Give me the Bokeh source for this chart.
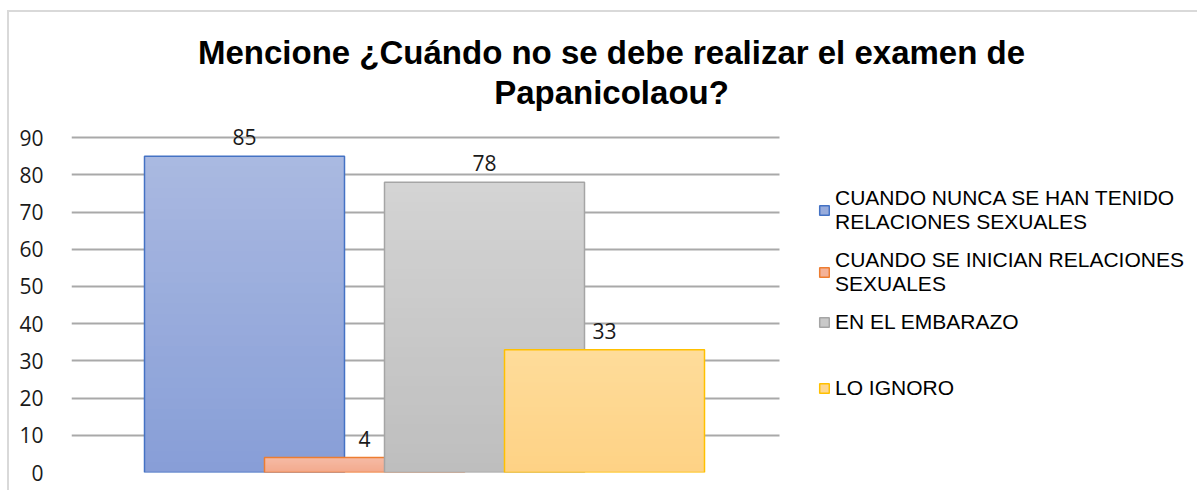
from bokeh.plotting import figure
from bokeh.models import Range1d, Legend, LegendItem, ColumnDataSource, FixedTicker, Label
from bokeh.embed import file_html
from bokeh.resources import INLINE
from bokeh.core.properties import value

# ---- data ----
series = [
    "CUANDO NUNCA SE HAN TENIDO\nRELACIONES SEXUALES",
    "CUANDO SE INICIAN RELACIONES\nSEXUALES",
    "EN EL EMBARAZO",
    "LO IGNORO",
]
values = [85, 4, 78, 33]
y_ticks = [0, 10, 20, 30, 40, 50, 60, 70, 80, 90]
title_lines = ["Mencione ¿Cuándo no se debe realizar el examen de", "Papanicolaou?"]

# ---- styles ----
top_colors = ["#aab9e1", "#f6bba5", "#d4d4d4", "#fedc9a"]
bottom_colors = ["#879ed7", "#f3a98c", "#bebebe", "#fed285"]
line_colors = ["#4472c4", "#ed7d31", "#a5a5a5", "#ffc000"]
N_SLICES = 30


def mix(c1, c2, t):
    a = [int(c1[k:k + 2], 16) for k in (1, 3, 5)]
    b = [int(c2[k:k + 2], 16) for k in (1, 3, 5)]
    return "#%02x%02x%02x" % tuple(round(a[j] + (b[j] - a[j]) * t) for j in range(3))


n = len(values)
bar_w = 1.0
step = 0.6
xs = [(i - (n - 1) / 2) * step for i in range(n)]

src = ColumnDataSource(dict(x=xs, top=values, txt=[str(v) for v in values]))

# frame spans the whole chart area; headroom above 90 holds the title
p = figure(width=1190, height=480, output_backend="svg", toolbar_location=None,
           x_range=Range1d(-1.765, 3.875), y_range=Range1d(0, 121.47),
           min_border_left=62, min_border_right=0, min_border_top=8,
           min_border_bottom=20)
p.title.visible = False
p.outline_line_color = None
p.styles = {"border-top": "2px solid #d9d9d9", "border-left": "2px solid #d9d9d9",
            "margin-left": "7px", "margin-top": "10px"}

legend_renderers = []
for i in range(n):
    v = values[i]
    # vertical gradient: overlapping slices, each running up to the bar top
    bots = [v * k / N_SLICES for k in range(N_SLICES)]
    tops = [v] * N_SLICES
    cols = [mix(bottom_colors[i], top_colors[i], (k + 0.5) / N_SLICES) for k in range(N_SLICES)]
    p.vbar(x=[xs[i]] * N_SLICES, bottom=bots, top=tops, width=bar_w,
           fill_color=cols, line_color=None)
    p.vbar(x=[xs[i]], top=[v], bottom=0, width=bar_w, fill_color=None,
           line_color=line_colors[i], line_width=1.5)
    swatch = p.vbar(x=[xs[i]], top=[v], bottom=0, width=bar_w,
                    fill_color=mix(bottom_colors[i], top_colors[i], 0.5),
                    line_color=line_colors[i], line_width=1.5, visible=False)
    legend_renderers.append(swatch)

p.text(x="x", y="top", text="txt", source=src, text_align="center",
       text_baseline="alphabetic", y_offset=-19,
       text_font=value("Open Sans"), text_font_size="21px", text_color="#1a1a1a")

p.xaxis.visible = False
p.xgrid.visible = False
p.yaxis.ticker = FixedTicker(ticks=y_ticks)
p.yaxis.axis_line_color = None
p.yaxis.major_tick_line_color = None
p.yaxis.minor_tick_line_color = None
p.yaxis.major_label_standoff = 22
p.yaxis.major_label_text_font = "Open Sans"
p.yaxis.major_label_text_font_size = "21px"
p.yaxis.major_label_text_color = "#1a1a1a"
p.ygrid.grid_line_color = "#a9a9a9"
p.ygrid.grid_line_width = 2
p.ygrid.level = "underlay"
p.ygrid.cross_bounds = (-1.765, 1.775)

tstyle = dict(x_units="screen", y_units="screen", text_align="center",
              text_baseline="middle", text_font="Liberation Sans",
              text_font_style="bold", text_font_size="33px", text_color="#000000")
p.add_layout(Label(x=540, y=420, text=title_lines[0], **tstyle))
p.add_layout(Label(x=540, y=380, text=title_lines[1], **tstyle))

common = dict(margin=0, padding=0, border_line_color=None, background_fill_alpha=0,
              glyph_width=12, glyph_height=12, label_standoff=5, spacing=14,
              label_text_font="Liberation Sans", label_text_font_size="21px",
              label_text_color="#000000", label_text_line_height=1.2)
legend1 = Legend(items=[LegendItem(label=series[i], renderers=[legend_renderers[i]]) for i in range(3)],
                 location=(747, 138), **common)
legend2 = Legend(items=[LegendItem(label=series[3], renderers=[legend_renderers[3]])],
                 location=(747, 72), **common)
p.add_layout(legend1)
p.add_layout(legend2)

open("out.html", "w").write(file_html(p, INLINE))
